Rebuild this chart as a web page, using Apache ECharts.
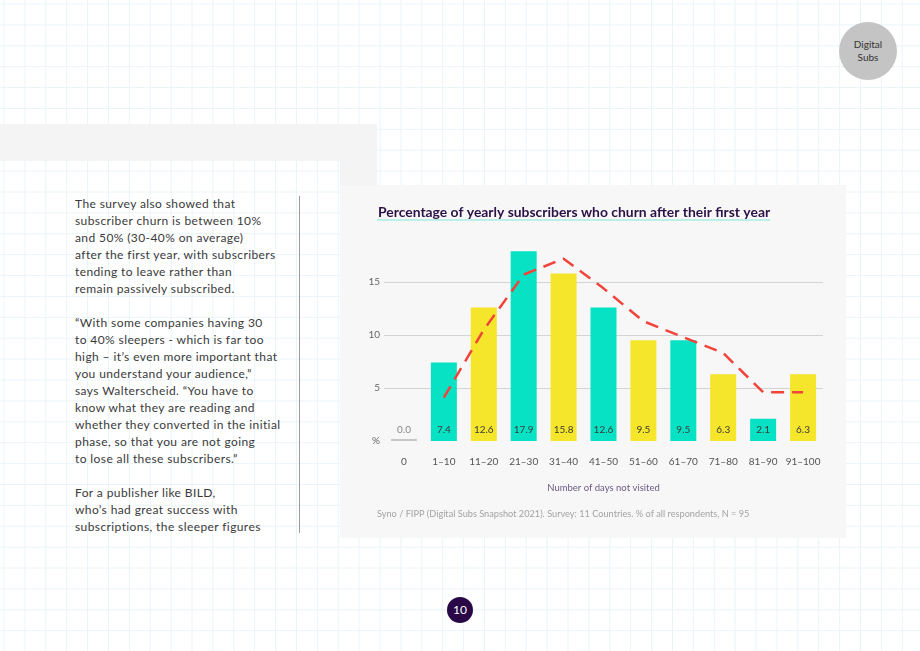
<!DOCTYPE html>
<html>
<head>
<meta charset="utf-8">
<script src="https://cdn.jsdelivr.net/npm/echarts@6/dist/echarts.min.js"></script>
<style>
  html, body { margin: 0; padding: 0; }
  body {
    width: 920px; height: 651px; position: relative; overflow: hidden;
    background-color: #fff;
    background-image:
      linear-gradient(to right, #eaf4f8 1px, transparent 1px),
      linear-gradient(to bottom, #eaf4f8 1px, transparent 1px);
    background-size: 20.9px 20.9px;
    background-position: 3.5px 3.5px;
    font-family: Lato, "Noto Sans", sans-serif;
  }
  .band { position: absolute; background: #f4f4f4; }
  .panel { position: absolute; left: 340px; top: 185px; width: 506px; height: 353px; background: #f7f7f7; }
  .underline { position: absolute; left: 377px; top: 219px; width: 393px; height: 2px; background: #bdefe8; }
  #chart { position: absolute; left: 340px; top: 185px; width: 506px; height: 353px; }
  .copy {
    position: absolute; left: 75px; top: 195px; font-size: 12px; line-height: 17px;
    color: #3a3a3a; white-space: nowrap; letter-spacing: 0.4px;
  }
  .copy p { margin: 0 0 17px 0; }
  .rule { position: absolute; left: 299px; top: 196px; width: 1px; height: 337px; background: #9a9a9a; }
  .badge {
    position: absolute; left: 839px; top: 22px; width: 58px; height: 58px; border-radius: 50%;
    background: #c4c4c4; color: #333; font-size: 10px; line-height: 13px; text-align: center;
    display: flex; align-items: center; justify-content: center;
  }
  .page {
    position: absolute; left: 447px; top: 597px; width: 26px; height: 26px; border-radius: 50%;
    background: #2a0848; color: #fff; font-size: 12px; line-height: 26px; text-align: center;
  }
</style>
</head>
<body>
<div class="band" style="left:0;top:124px;width:377px;height:37px"></div>
<div class="band" style="left:340px;top:161px;width:37px;height:24px"></div>
<div class="panel"></div>
<div class="underline"></div>
<div id="chart"></div>
<div class="copy">
  <p>The survey also showed that<br>subscriber churn is between 10%<br>and 50% (30-40% on average)<br>after the first year, with subscribers<br>tending to leave rather than<br>remain passively subscribed.</p>
  <p>“With some companies having 30<br>to 40% sleepers - which is far too<br>high – it’s even more important that<br>you understand your audience,”<br>says Walterscheid. “You have to<br>know what they are reading and<br>whether they converted in the initial<br>phase, so that you are not going<br>to lose all these subscribers.”</p>
  <p>For a publisher like BILD,<br>who’s had great success with<br>subscriptions, the sleeper figures</p>
</div>
<div class="rule"></div>
<div class="badge"><div>Digital<br>Subs</div></div>
<div class="page">10</div>
<script>
    // data
    const categories = ['0', '1–10', '11–20', '21–30', '31–40', '41–50', '51–60', '61–70', '71–80', '81–90', '91–100'];
    const churnValues = [0.0, 7.4, 12.6, 17.9, 15.8, 12.6, 9.5, 9.5, 6.3, 2.1, 6.3];
    const trendValues = ['-', 4.1, 10.5, 15.7, 17.2, 14.4, 11.3, 9.8, 8.3, 4.6, 4.6];
    const yTicks = [0, 5, 10, 15];

    const teal = '#06e2c3';
    const yellow = '#f5e62b';

    let chart = echarts.init(document.getElementById('chart'));
    const options = {
        textStyle: { fontFamily: 'Lato, "Noto Sans", sans-serif' },
        title: {
            text: 'Percentage of yearly subscribers who churn after their first year',
            left: 33,
            top: 16,
            textStyle: { color: '#2b1145', fontSize: 13.9, fontWeight: 'bold' }
        },
        graphic: [
            {
                type: 'text', left: 37, top: 325,
                style: { text: 'Syno / FIPP (Digital Subs Snapshot 2021). Survey: 11 Countries. % of all respondents, N = 95', fill: '#a3a3a3', fontSize: 9.2, fontFamily: 'Lato' }
            }
        ],
        grid: { left: 44, right: 23, top: 44, bottom: 97 },
        xAxis: {
            type: 'category',
            data: categories,
            axisLine: { show: false },
            axisTick: { show: false },
            axisLabel: { color: '#555', fontSize: 10, margin: 16, interval: 0 },
            name: 'Number of days not visited',
            nameLocation: 'middle',
            nameGap: 42,
            nameTextStyle: { color: '#6b5a86', fontSize: 9.5 }
        },
        yAxis: {
            type: 'value',
            min: 0,
            max: 20,
            interval: 5,
            axisLine: { show: false },
            axisTick: { show: false },
            axisLabel: {
                color: '#666', fontSize: 10, margin: 4, showMaxLabel: false,
                formatter: function (v) { return v === 0 ? '%' : (yTicks.indexOf(v) >= 0 ? String(v) : ''); }
            },
            splitLine: { showMinLine: false, showMaxLine: false, lineStyle: { color: '#d3d3d3' } }
        },
        series: [
            {
                type: 'bar',
                barWidth: 26,
                barMinHeight: 2,
                data: churnValues.map(function (v, i) {
                    return {
                        value: v,
                        itemStyle: { color: i === 0 ? '#c6c6c6' : (i % 2 === 1 ? teal : yellow) },
                        label: { color: i === 0 ? '#888' : '#3a3a3a' }
                    };
                }),
                label: {
                    show: true,
                    position: 'insideBottom',
                    distance: 6,
                    fontSize: 10,
                    formatter: function (p) { return p.value.toFixed(1); }
                },
                z: 2
            },
            {
                type: 'line',
                data: trendValues,
                symbol: 'none',
                lineStyle: { color: '#f2433b', width: 2.5, type: [13, 8] },
                z: 3
            }
        ]
    };
    chart.setOption(options, true);
</script>
</body>
</html>
